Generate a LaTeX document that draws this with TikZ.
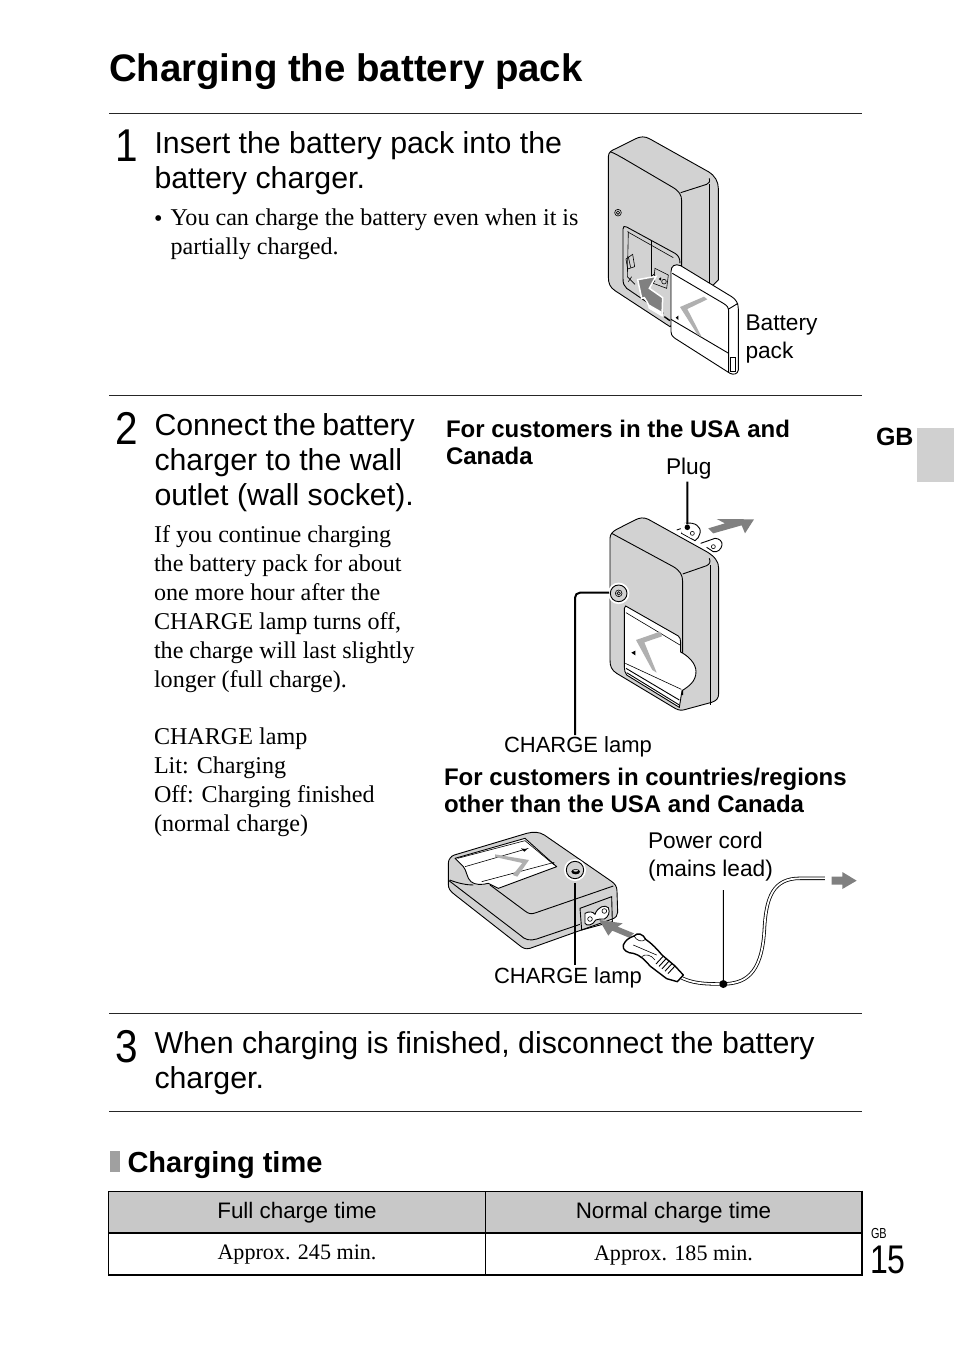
\documentclass[tikz,border=0pt]{standalone}
\usepackage{fontspec}
\setmainfont{Liberation Sans}
\newfontfamily\serifface{Liberation Serif}
\usetikzlibrary{calc}
\definecolor{bodygray}{HTML}{D2D2D2}
\definecolor{headgray}{HTML}{C8C8C8}
\definecolor{tabgray}{HTML}{D0D0D0}
\definecolor{arrowgray}{HTML}{808080}
\definecolor{vgray}{HTML}{B0B0B0}
\newcommand{\fs}[2]{\fontsize{#1}{#2}\selectfont}
\tikzset{
  txt/.style={inner sep=0pt,outer sep=0pt,anchor=north west,align=left},
  basetxt/.style={inner sep=0pt,outer sep=0pt,anchor=base west},
  title/.style={basetxt,font=\bfseries\fs{38.4}{39}},
  step num/.style={basetxt,font=\fs{46}{46},xscale=.88},
  heading/.style={txt,font=\fs{30.3}{35}},
  body/.style={txt,font=\serifface\fs{24.1}{29}},
  label/.style={txt,font=\fs{22.7}{28}},
  chargelabel/.style={txt,font=\fs{22}{28}},
  boldlabel/.style={txt,font=\bfseries\fs{24}{27.5}},
  rule/.style={line width=.9pt,black!85},
  ink/.style={line width=.9pt,black},
  thinink/.style={line width=.6pt,black},
  leader/.style={line width=2pt,black},
  vmark/.style={fill=vgray,draw=none},
  garrow/.style={fill=arrowgray,draw=none},
  dotnode/.style={circle,fill=black,inner sep=0pt,minimum size=#1},
  ringnode/.style={circle,fill=white,draw=none,inner sep=0pt,minimum size=#1},
  cellhead/.style={inner sep=0pt,font=\fs{22.4}{28}},
  cellbody/.style={inner sep=0pt,font=\serifface\fs{22.1}{28}},
}
\begin{document}
\begin{tikzpicture}[x=1pt,y=-1pt]
\useasboundingbox (0,0) rectangle (954,1345);
\fill[white] (0,0) rectangle (954,1345);

% title and rules
\node[title] (ttl) at (109,81.5) {Charging the battery pack};
\foreach \yy/\nn in {113/ra,395/rb,1013/rc,1111/rd}{
  \coordinate (\nn l) at (109,\yy); \coordinate (\nn r) at (862,\yy);
  \draw[rule] (\nn l) -- (\nn r);
}

% step 1
\node[step num] (one) at (115.5,161.5) {1};
\node[heading] (h1) at (154.5,131.5) {Insert the battery pack into the\\battery charger.};
\node[basetxt,font=\serifface\fs{24.1}{29}] (b1a) at (154,226) {•};
\node[body] (b1b) at (170.5,209) {You can charge the battery even when it is\\partially charged.};
\node[label] (lbat) at (745.5,314.5) {Battery\\pack};

% step 2
\node[step num] (two) at (115.5,444) {2};
\node[heading] (h2) at (154.5,413.5) {Connect\hspace{-2pt} the\hspace{-2pt} battery\\charger to the wall\\outlet (wall socket).};
\node[body] (b2) at (154,526) {If you continue charging\\the battery pack for about\\one more hour after the\\CHARGE lamp turns off,\\the charge will last slightly\\longer (full charge).};
\node[body] (b3) at (154,728) {CHARGE lamp\\Lit: Charging\\Off: Charging finished\\(normal charge)};
\node[boldlabel] (bu) at (446,420) {For customers in the USA and\\Canada};
\node[boldlabel] (bo) at (444,768) {For customers in countries/regions\\other than the USA and Canada};
\node[label] (lplug) at (666,458) {Plug};
\node[chargelabel] (lc1) at (504,737) {CHARGE lamp};
\node[label] (lpc) at (648,832) {Power cord\\(mains lead)};
\node[chargelabel] (lc2) at (494,968) {CHARGE lamp};

% step 3
\node[step num] (three) at (115.5,1062) {3};
\node[heading] (h3) at (154.5,1031.5) {When charging is finished, disconnect the battery\\charger.};

% side tab
\fill[tabgray] (917,428) rectangle (954,482);
\node[basetxt,font=\bfseries\fs{25}{25}] (gb) at (876,445) {GB};

% section head
\fill[arrowgray!75] (110,1151) rectangle (120,1172);
\node[basetxt,font=\bfseries\fs{29}{29}] (sect) at (127.5,1172) {Charging time};

% table
\fill[headgray] (109,1192) rectangle (862,1233);
\draw[line width=1.1pt] (108.5,1191.5) -- (862,1191.5);
\draw[line width=.8pt] (485.5,1191) -- (485.5,1275);
\draw[line width=1.1pt] (108.5,1191) -- (108.5,1275);
\draw[line width=1.8pt] (108,1233) -- (862,1233);
\draw[line width=1.8pt] (108,1275) -- (862,1275);
\draw[line width=1.8pt] (862,1190.5) -- (862,1276);
\node[cellhead] (c11) at (297,1213) {Full charge time};
\node[cellhead] (c12) at (673.5,1213) {Normal charge time};
\node[cellbody] (c21) at (297,1255) {Approx. 245 min.};
\node[cellbody] (c22) at (673.5,1255) {Approx. 185 min.};

% page number
\node[basetxt,font=\fs{14.5}{14.5},xscale=.75] (pgb) at (871,1238) {GB};
\node[basetxt,font=\fs{40}{40},xscale=.8] (pg) at (870,1273) {15};

% ---------- charger 1 ----------
\begin{scope}[shift={(590,125)},scale=1/3]
\draw[ink,fill=bodygray,line join=round] (55,95) .. controls (55,82) and (65,76) .. (75,72)
  -- (135,42) .. controls (150,34) and (165,33) .. (180,42)
  -- (355,140) .. controls (375,152) and (385,170) .. (385,190)
  -- (385,465) -- (240,605)
  -- (75,497) .. controls (60,487) and (55,475) .. (55,455) -- cycle;
\draw[ink] (60,80) .. controls (75,85) and (85,92) .. (100,100) -- (245,185)
  .. controls (268,198) and (275,210) .. (275,228) -- (275,450);
\draw[ink] (272,203) -- (350,178) .. controls (358,175) and (360,170) .. (358,160);
\draw[ink] (358,176) -- (358,480);
\draw[ink] (220,565) -- (110,490) .. controls (102,484) and (99,475) .. (99,460)
  -- (99,312) .. controls (99,304) and (103,302) .. (110,306)
  -- (255,385) .. controls (265,391) and (270,400) .. (270,415);
\draw[thinink] (115,320) -- (112,455) -- (135,478);
\draw[thinink] (112,320) -- (250,398);
\draw[ink] (183,345) -- (183,455);
\draw[thinink] (108,402) -- (128,388) -- (134,425) -- (113,432) -- cycle;
\draw[thinink] (115,395) -- (122,428);
\draw[thinink] (115,470) -- (125,455);
\draw[thinink] (195,430) -- (235,450) -- (230,490) -- (190,475) -- cycle;
\draw[thinink] (222,470) circle[radius=7];
\fill (206,462) -- (213,457) -- (213,467) -- cycle;
\draw[thinink] (191,452) circle[radius=4];
\draw[thinink] (191,468) circle[radius=4];
\draw[garrow,draw=white,line width=1.5pt,line join=miter] (143,464) -- (198,454) -- (178,490) -- (218,518) -- (216,572) -- (180,550)
  -- (172,532) -- (163,518) -- (155,520) -- cycle;
\fill[white] (175,537) -- (215,560) -- (215,572) -- (175,550) -- cycle;
\draw[ink,line width=1.4pt] (223,575) -- (240,587);
% lamp
\coordinate (lamp1) at (84,263);
\draw[thinink] (lamp1) circle[radius=10];
\draw[thinink] (lamp1) circle[radius=5];
% battery
\draw[ink,fill=white,line join=round] (243,440) .. controls (243,422) and (255,415) .. (272,422)
  -- (425,515) .. controls (438,523) and (445,535) .. (445,552)
  -- (445,735) .. controls (443,748) and (430,750) .. (420,745)
  -- (255,640) .. controls (245,632) and (243,628) .. (243,620) -- cycle;
\draw[ink] (247,445) -- (400,535) .. controls (412,542) and (416,548) .. (416,560) -- (416,742);
\draw[ink] (243,583) -- (416,685);
\draw[ink] (416,552) -- (444,535);
\draw[thinink] (421,697) rectangle (437,738);
\fill[vmark] (270,546) -- (342,515) -- (352,523) -- (292,552) -- (335,636) -- (322,628) -- cycle;
\fill (257,578) -- (265,572) -- (265,585) -- cycle;
\end{scope}

% ---------- charger 2 ----------
\begin{scope}[shift={(560,450)},scale=1/3]
\draw[ink] (350,240) -- (368,234);
\draw[ink,fill=white] (375,220) .. controls (405,215) and (425,230) .. (420,250)
  .. controls (418,260) and (412,268) .. (405,272) -- (365,250) -- cycle;
\fill[white] (360,225) -- (378,218) -- (395,265) -- (365,248) -- cycle;
\draw[thinink] (397,250) circle[radius=6];
\draw[ink,fill=white,line join=round] (422,280) -- (465,265) .. controls (478,265) and (488,275) .. (486,285)
  .. controls (484,298) and (472,308) .. (460,305) -- (440,292);
\draw[thinink] (460,290) circle[radius=6];
\draw[ink,fill=bodygray,line join=round] (150,265) .. controls (150,252) and (158,245) .. (170,238)
  -- (225,210) .. controls (240,202) and (252,202) .. (265,208)
  -- (440,305) .. controls (465,320) and (476,335) .. (476,355)
  -- (476,730) .. controls (476,745) and (470,752) .. (455,757)
  -- (370,780) .. controls (358,782) and (350,778) .. (340,772)
  -- (170,670) .. controls (155,660) and (150,650) .. (150,630) -- cycle;
\draw[ink] (155,250) -- (340,350) .. controls (360,362) and (368,375) .. (368,395) -- (368,735);
\draw[ink] (368,372) -- (440,347) .. controls (450,342) and (452,335) .. (448,325);
\draw[ink] (451,345) -- (451,765);
\draw[ink,fill=white] (197,468) -- (355,558) .. controls (360,562) and (362,568) .. (362,578)
  -- (362,606) .. controls (385,618) and (408,640) .. (408,665)
  .. controls (408,695) and (385,710) .. (366,722) -- (358,772) -- (200,675)
  .. controls (195,670) and (193,660) .. (193,650) -- (193,475) -- cycle;
\draw[thinink] (198,488) -- (360,585);
\draw[thinink] (196,640) -- (364,718);
\draw[ink] (198,655) -- (358,750);
\draw[ink] (200,668) -- (358,765);
\fill[vmark] (228,570) -- (300,545) -- (306,559) -- (253,577) -- (290,668) -- (277,660) -- cycle;
\fill (214,608) -- (226,602) -- (226,616) -- cycle;
\fill[garrow] (445,235) -- (495,220) -- (470,207) -- (582,208) -- (555,250) -- (545,226) -- (460,250) -- cycle;
\node[ringnode=21.5pt] (ring1) at (176,430) {};
\draw[ink,fill=bodygray] (ring1.center) circle[radius=25];
\draw[thinink] (ring1.center) circle[radius=10];
\draw[thinink] (ring1.center) circle[radius=5];
\node[dotnode=5.5pt] (plugdot) at (382,232) {};
\coordinate (plugtop) at (382,95);
\draw[leader] (plugtop) -- (plugdot);
\coordinate (lamp1end) at (45,855);
\coordinate (lamp1corner) at (45,428);
\coordinate (ring1edge) at (147,428);
\draw[leader,rounded corners=5pt] (ring1edge) -- (lamp1corner) -- (lamp1end);
\end{scope}

% ---------- charger 3 ----------
\begin{scope}[shift={(445,825)},scale=1/3]
\draw[ink,fill=bodygray,line join=round] (15,100) .. controls (18,95) and (22,92) .. (28,90)
  -- (245,25) .. controls (265,20) and (282,20) .. (298,30)
  -- (498,168) .. controls (510,176) and (516,185) .. (516,198)
  -- (518,262) .. controls (518,272) and (512,278) .. (502,282)
  -- (255,370) .. controls (240,374) and (232,368) .. (222,360)
  -- (28,208) .. controls (15,198) and (10,190) .. (10,178)
  -- (10,115) .. controls (10,108) and (12,104) .. (15,100) -- cycle;
\draw[ink] (12,167) -- (225,330) .. controls (240,345) and (255,348) .. (275,342) -- (405,298);
\draw[ink,fill=white,line join=round] (30,100) -- (240,40) -- (335,125) -- (160,190) -- (130,175)
  .. controls (110,180) and (90,180) .. (78,170) .. controls (65,160) and (65,135) .. (55,125) -- cycle;
\draw[thinink] (38,100) -- (240,47) -- (328,120);
\draw[thinink] (60,125) -- (250,70);
\draw[thinink] (110,170) -- (328,112);
\draw[ink] (14,165) .. controls (40,175) and (65,180) .. (85,180);
\draw[ink] (135,180) -- (240,258) .. controls (250,266) and (258,268) .. (270,264) -- (505,183);
\fill[vmark] (150,88) -- (252,105) -- (217,155) -- (203,150) -- (232,114) -- (150,96) -- cycle;
\fill (228,70) -- (246,73) -- (238,80) -- cycle;
\node[ringnode=22pt] (ring2) at (390,135) {};
\draw[ink,fill=bodygray] (ring2.center) circle[radius=26];
\fill (392,140) ellipse[x radius=13,y radius=8];
\fill[bodygray] (392,137) ellipse[x radius=7,y radius=3];
% socket
\draw[ink] (405,250) -- (500,215) -- (502,290) -- (410,315) -- cycle;
\draw[ink,fill=white] (420,265) .. controls (432,258) and (445,260) .. (450,268)
  .. controls (458,245) and (480,238) .. (490,248) .. controls (496,262) and (490,276) .. (478,282)
  .. controls (465,282) and (460,282) .. (452,285) .. controls (445,300) and (425,305) .. (420,295) -- cycle;
\draw[thinink] (435,282) circle[radius=7];
\draw[thinink] (478,258) circle[radius=7];
\end{scope}

% ---------- power cord and plug ----------
\begin{scope}[shift={(440,820)},scale=1/3]
\coordinate (cordA) at (718,470);
\coordinate (cordB) at (1155,175);
\draw[line width=3.4pt,black] (cordA) .. controls (755,490) and (790,492) .. (850,492)
  .. controls (910,490) and (965,470) .. (973,330)
  .. controls (978,230) and (1000,175) .. (1080,175) -- (cordB);
\draw[line width=1.8pt,white] (cordA) .. controls (755,490) and (790,492) .. (850,492)
  .. controls (910,490) and (965,470) .. (973,330)
  .. controls (978,230) and (1000,175) .. (1080,175) -- (cordB);
\fill[garrow] (478,300) -- (548,310) -- (533,320) -- (582,340) -- (567,353) -- (517,332) -- (505,347) -- cycle;
\fill[garrow] (1175,170) -- (1207,170) -- (1207,156) -- (1250,182) -- (1207,207) -- (1207,194) -- (1175,194) -- cycle;
\node[dotnode=8pt] (corddot) at (850,492) {};
\coordinate (cordtop) at (850,210);
\draw[line width=1.1pt] (cordtop) -- (corddot);
\coordinate (lamp2end) at (405,435);
\coordinate (ring2foot) at (405,190);
\draw[leader] (ring2foot) -- (lamp2end);
\end{scope}
\begin{scope}[shift={(600,900)},scale=1/3]
\draw[ink,line width=1.4pt,fill=white,line join=round] (70,135) .. controls (75,122) and (88,112) .. (102,108)
  .. controls (112,96) and (130,102) .. (137,118)
  .. controls (155,130) and (172,148) .. (186,165)
  -- (225,198) -- (250,225) -- (232,245) -- (200,236)
  -- (150,198) .. controls (135,180) and (120,165) .. (100,160)
  .. controls (85,160) and (65,150) .. (70,135) -- cycle;
\draw[thinink] (102,108) .. controls (110,122) and (125,128) .. (137,118);
\draw[thinink] (100,135) -- (170,165);
\draw[thinink] (125,170) .. controls (135,160) and (155,165) .. (165,180);
\foreach \k in {0,9,18,27,36}{
  \draw[ink] ($(168,192)+(\k,\k*.8)$) -- ($(190,168)+(\k,\k*.8)$);
}
\end{scope}
\end{tikzpicture}
\end{document}
